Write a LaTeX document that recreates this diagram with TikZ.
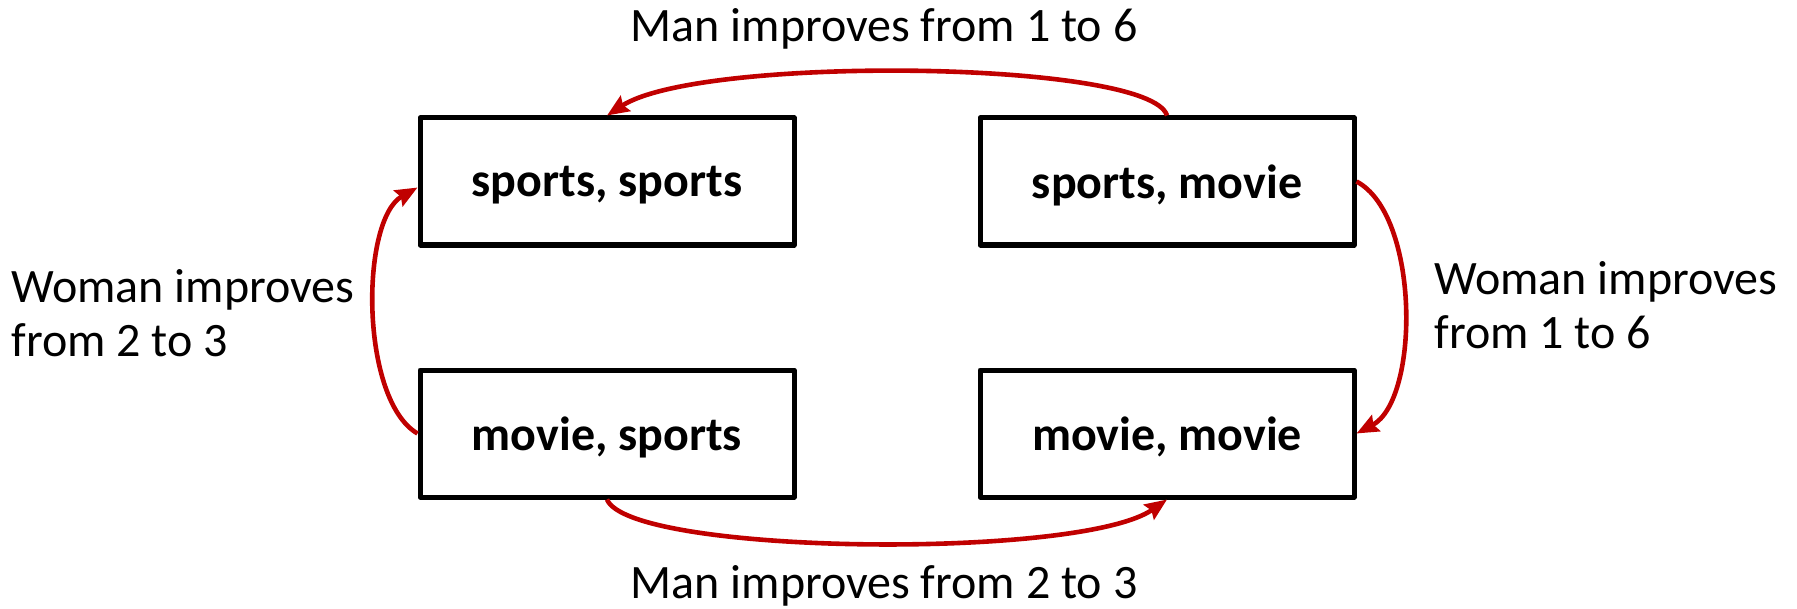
\documentclass[tikz,border=0pt]{standalone}
\usepackage{fontspec}
\setmainfont{Carlito}
\usetikzlibrary{arrows.meta}
\definecolor{arrred}{HTML}{C00000}
\tikzset{
  box/.style={draw=black, line width=2.5pt, line join=round, minimum width=187pt, minimum height=63.5pt, inner sep=0pt, text depth=0pt, font=\fontsize{24}{28}\selectfont\bfseries},
  lbl/.style={font=\fontsize{24}{27}\selectfont, inner sep=0pt, align=left},
  conn/.style={draw=arrred, line width=2.3pt, -{Stealth[length=11pt,width=9pt,inset=1.5pt]}}
}
\begin{document}
\begin{tikzpicture}[x=0.5pt,y=-0.5pt]
\useasboundingbox (0,0) rectangle (1797,609);
\node[box] (ss) at (607,181.5) {sports, sports};
\node[box] (sm) at (1167,181.5) {sports, movie};
\node[box] (ms) at (607,433.5) {movie, sports};
\node[box] (mm) at (1167,433.5) {movie, movie};
\node[lbl, anchor=base] (t1) at (884,42) {Man improves from 1 to 6};
\node[lbl, anchor=base] (t2) at (884,598) {Man improves from 2 to 3};
\node[lbl, anchor=west] (t3) at (11,313) {Woman improves\\from 2 to 3};
\node[lbl, anchor=west] (t4) at (1434,305) {Woman improves\\from 1 to 6};
\draw[conn] (sm.north) .. controls (1150,60) and (700,55) .. (ss.north);
\draw[conn] (ms.south) .. controls (630,555) and (1080,560) .. (mm.south);
\draw[conn] (ms.west) .. controls (360,400) and (360,220) .. ([yshift=-3pt]ss.west);
\draw[conn] (sm.east) .. controls (1420,215) and (1420,400) .. (mm.east);
\end{tikzpicture}
\end{document}
